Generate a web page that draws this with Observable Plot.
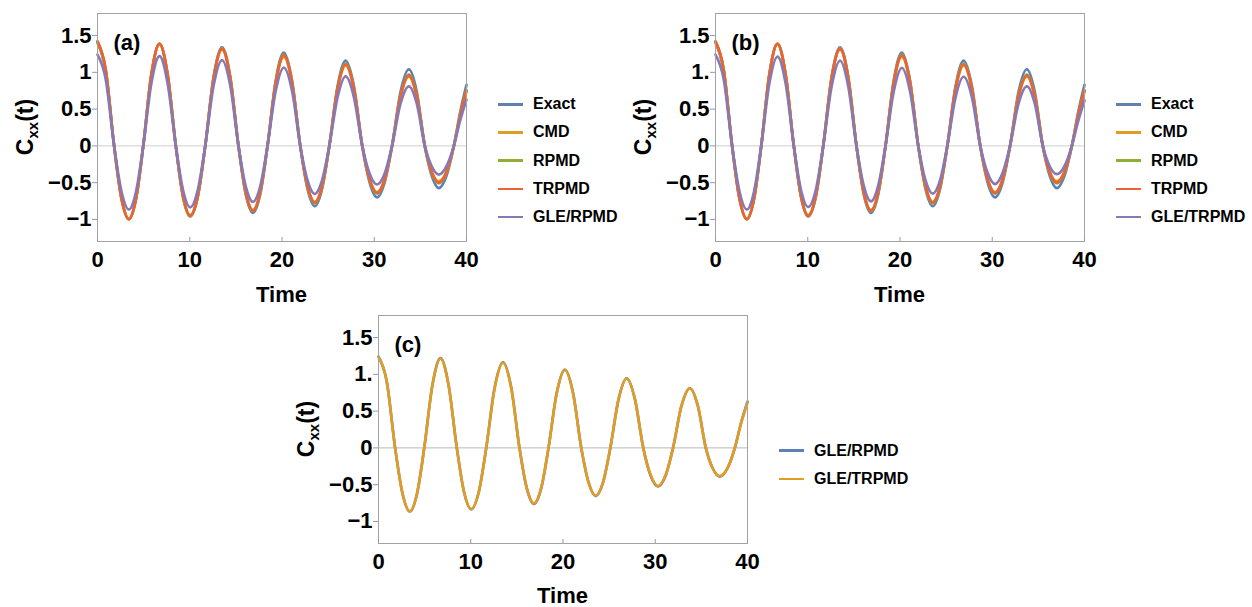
<!DOCTYPE html>
<html><head><meta charset="utf-8">
<script src="https://cdn.jsdelivr.net/npm/d3@7"></script>
<script src="https://cdn.jsdelivr.net/npm/@observablehq/plot@0.6"></script>
<style>
body{margin:0;background:#fff;}
#root{position:relative;width:1252px;height:607px;overflow:hidden;font-family:"Liberation Sans",Arial,Helvetica,sans-serif;font-weight:bold;color:#000;background:#fff}
.panel{position:absolute;width:480px;height:310px}
.panel svg{position:absolute;left:0;top:0;overflow:visible}
.panel svg g[aria-label$="tick label"] text{font-size:22px !important;font-weight:bold !important;font-family:"Liberation Sans",Arial,sans-serif !important}
.ylab{position:absolute;font-size:23px;white-space:nowrap;transform:translate(-50%,-50%) rotate(-90deg);line-height:1}
.ylab sub{font-size:15px;vertical-align:-5px;line-height:0}
.xlab{position:absolute;font-size:22px;white-space:nowrap;transform:translate(-50%,-50%);line-height:1}
.legend{position:absolute;font-size:16px}
.legend .row{position:absolute;left:0;display:flex;align-items:center;height:20px;transform:translateY(-50%);white-space:nowrap}
.legend .sw{width:25px;height:2.5px;margin-right:10px}
</style></head>
<body><div id="root"></div>
<script>
// ---- data ----
const time = [0, 0.9, 1.8, 2.6, 3.4, 4.18, 4.96, 5.84, 6.72, 7.6, 8.49, 9.27, 10.05, 10.87, 11.68, 12.59, 13.5, 14.39, 15.28, 16.07, 16.85, 17.64, 18.43, 19.32, 20.2, 21.09, 21.98, 22.77, 23.55, 24.34, 25.13, 26.02, 26.9, 27.8, 28.7, 29.5, 30.3, 31.12, 31.93, 32.84, 33.75, 34.62, 35.48, 36.24, 37.0, 37.82, 38.63, 39.3, 40];
const exact = [1.40, 1.01, 0, -0.71, -0.99, -0.71, 0, 0.97, 1.38, 0.97, 0, -0.69, -0.96, -0.69, 0, 0.94, 1.34, 0.94, 0, -0.66, -0.91, -0.66, 0, 0.89, 1.27, 0.89, 0, -0.59, -0.82, -0.59, 0, 0.81, 1.16, 0.81, 0, -0.50, -0.70, -0.50, 0, 0.73, 1.04, 0.73, 0, -0.41, -0.575, -0.41, 0, 0.45, 0.83];
const cmd = [1.41, 1.02, 0, -0.71, -0.99, -0.71, 0, 0.97, 1.38, 0.97, 0, -0.68, -0.94, -0.68, 0, 0.92, 1.31, 0.92, 0, -0.63, -0.87, -0.63, 0, 0.85, 1.21, 0.85, 0, -0.55, -0.76, -0.55, 0, 0.76, 1.09, 0.76, 0, -0.45, -0.63, -0.45, 0, 0.66, 0.94, 0.66, 0, -0.35, -0.48, -0.35, 0, 0.40, 0.74];
const rpmd = [1.42, 1.03, 0, -0.72, -1.0, -0.72, 0, 0.97, 1.39, 0.97, 0, -0.69, -0.955, -0.69, 0, 0.93, 1.325, 0.93, 0, -0.64, -0.885, -0.64, 0, 0.87, 1.24, 0.87, 0, -0.56, -0.78, -0.56, 0, 0.78, 1.12, 0.78, 0, -0.47, -0.65, -0.47, 0, 0.68, 0.97, 0.68, 0, -0.37, -0.51, -0.37, 0, 0.41, 0.76];
const trpmd = [1.42, 1.03, 0, -0.72, -1.0, -0.72, 0, 0.97, 1.39, 0.97, 0, -0.68, -0.95, -0.68, 0, 0.92, 1.32, 0.92, 0, -0.63, -0.88, -0.63, 0, 0.86, 1.23, 0.86, 0, -0.55, -0.77, -0.55, 0, 0.78, 1.11, 0.78, 0, -0.46, -0.64, -0.46, 0, 0.67, 0.96, 0.67, 0, -0.36, -0.50, -0.36, 0, 0.41, 0.75];
const gleRpmd = [1.24, 0.90, 0, -0.62, -0.865, -0.62, 0, 0.85, 1.22, 0.85, 0, -0.60, -0.835, -0.60, 0, 0.82, 1.165, 0.82, 0, -0.55, -0.76, -0.55, 0, 0.75, 1.065, 0.75, 0, -0.47, -0.655, -0.47, 0, 0.66, 0.945, 0.66, 0, -0.38, -0.525, -0.38, 0, 0.57, 0.81, 0.57, 0, -0.28, -0.39, -0.28, 0, 0.34, 0.63];
const gleTrpmd = [1.24, 0.90, 0, -0.62, -0.865, -0.62, 0, 0.85, 1.215, 0.85, 0, -0.60, -0.83, -0.60, 0, 0.81, 1.16, 0.81, 0, -0.54, -0.755, -0.54, 0, 0.74, 1.06, 0.74, 0, -0.47, -0.65, -0.47, 0, 0.66, 0.94, 0.66, 0, -0.37, -0.52, -0.37, 0, 0.57, 0.81, 0.57, 0, -0.28, -0.385, -0.28, 0, 0.33, 0.62];

const xTicks = [0, 10, 20, 30, 40];
const yTicks = [-1, -0.5, 0, 0.5, 1, 1.5];
const yTickLabelsA = ["\u22121", "\u22120.5", "0", "0.5", "1", "1.5"];
const yTickLabelsBC = ["\u22121", "\u22120.5", "0", "0.5", "1.", "1.5"];
const panelTags = ["(a)", "(b)", "(c)"];
const namesA = ["Exact", "CMD", "RPMD", "TRPMD", "GLE/RPMD"];
const namesB = ["Exact", "CMD", "RPMD", "TRPMD", "GLE/TRPMD"];
const namesC = ["GLE/RPMD", "GLE/TRPMD"];
const colorsABC = ["#5E81B5", "#E19C24", "#8FB032", "#EB6235", "#8778B6"];
const colorsC = ["#5E81B5", "#E19C24"];
const xLabel = "Time";

// ---- build ----
const root = document.getElementById("root");
const FONT = '"Liberation Sans", Arial, Helvetica, sans-serif';

function makePlot(tag, seriesList, colors, yLabels, zeroColor) {
  const lineMarks = seriesList.map((vals, k) =>
    Plot.line(time.map((t, i) => ({t, v: vals[i]})), {
      x: "t", y: "v", stroke: colors[k], strokeWidth: 2.7, curve: "monotone-x", strokeLinejoin: "round"
    })
  );
  return Plot.plot({
    width: 480, height: 310,
    marginLeft: 97, marginRight: 14, marginTop: 13, marginBottom: 69,
    style: {fontFamily: FONT, fontSize: "22px", fontWeight: "bold", color: "#000", background: "transparent", overflow: "visible"},
    x: {domain: [0, 40]},
    y: {domain: [-1.3, 1.8]},
    marks: [
      Plot.ruleY([0], {stroke: zeroColor, strokeWidth: 1}),
      ...lineMarks,
      Plot.frame({stroke: "#a3a3a3"}),
      Plot.axisY(yTicks, {tickSize: 5, tickPadding: 1, fontSize: 22, fontWeight: "bold", tickFormat: d => yLabels[yTicks.indexOf(d)], stroke: "#999", fill: "#000", label: null}),
      Plot.axisX(xTicks, {tickSize: -4, tickPadding: 14, fontSize: 22, fontWeight: "bold", tickFormat: d => String(d), stroke: "#999", fill: "#000", label: null}),
      Plot.text([tag], {text: d => d, frameAnchor: "top-left", dx: 16, dy: 29, fontSize: 22, fontWeight: "bold", textAnchor: "start", lineAnchor: "middle", fill: "#000"})
    ]
  });
}

function addPanel(left, top, plot, xlabTop) {
  const div = document.createElement("div");
  div.className = "panel";
  div.style.left = left + "px";
  div.style.top = top + "px";
  div.appendChild(plot);
  const yl = document.createElement("div");
  yl.className = "ylab";
  yl.style.left = "25px"; yl.style.top = "127px";
  yl.innerHTML = "C<sub>xx</sub>(t)";
  div.appendChild(yl);
  const xl = document.createElement("div");
  xl.className = "xlab";
  xl.style.left = "281.5px"; xl.style.top = xlabTop + "px";
  xl.textContent = xLabel;
  div.appendChild(xl);
  root.appendChild(div);
}

function addLegend(left, top, names, colors) {
  const lg = document.createElement("div");
  lg.className = "legend";
  lg.style.left = left + "px"; lg.style.top = top + "px";
  names.forEach((n, i) => {
    const row = document.createElement("div");
    row.className = "row";
    row.style.top = (i * 28.2) + "px";
    const sw = document.createElement("div");
    sw.className = "sw";
    sw.style.background = colors[i];
    const tx = document.createElement("span");
    tx.textContent = n;
    row.appendChild(sw); row.appendChild(tx);
    lg.appendChild(row);
  });
  root.appendChild(lg);
}

addPanel(0, 0, makePlot(panelTags[0], [exact, cmd, rpmd, trpmd, gleRpmd], colorsABC, yTickLabelsA, "#d0d0d0"), 295);
addPanel(618, 0, makePlot(panelTags[1], [exact, cmd, rpmd, trpmd, gleTrpmd], colorsABC, yTickLabelsBC, "#d0d0d0"), 295);
addPanel(281, 302, makePlot(panelTags[2], [gleRpmd, gleTrpmd], colorsC, yTickLabelsBC, "#b8b8b8"), 293.5);

addLegend(498, 104.3, namesA, colorsABC);
addLegend(1116, 104.3, namesB, colorsABC);
addLegend(779, 450.7, namesC, colorsC);
</script>
</body></html>
